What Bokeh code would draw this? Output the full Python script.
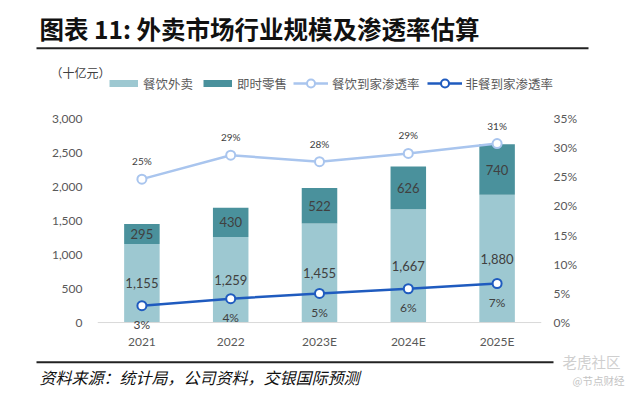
from bokeh.plotting import figure
from bokeh.layouts import column
from bokeh.models import (ColumnDataSource, Range1d, FactorRange, LinearAxis, Label, LabelSet,
                          BoxAnnotation, Legend, LegendItem, NumeralTickFormatter, FixedTicker,
                          PrintfTickFormatter, Span)
from bokeh.core.properties import value
from bokeh.embed import file_html
from bokeh.resources import INLINE

# ---- data ----
years = ["2021", "2022", "2023E", "2024E", "2025E"]
food = [1155, 1259, 1455, 1667, 1880]          # 餐饮外卖 (十亿元)
retail = [295, 430, 522, 626, 740]             # 即时零售 (十亿元)
food_pen = [24.6, 28.7, 27.6, 29.0, 30.7]      # 餐饮到家渗透率 (%)
nonfood_pen = [2.9, 4.1, 5.0, 5.8, 6.7]        # 非餐到家渗透率 (%)
left_ticks = [0, 500, 1000, 1500, 2000, 2500, 3000]
right_ticks = [0, 5, 10, 15, 20, 25, 30, 35]

C_FOOD = "#9DC8D1"
C_RETAIL = "#4A919C"
C_LIGHT = "#A9C5EE"
C_DARK = "#1F5BBF"
TXT = "#404040"
AX = "#595959"
NUM_FONT = "Lato"
CJK = "Noto Sans CJK SC"

W = 636
H_HEAD, H_MAIN, H_FOOT = 97, 254, 42

src = ColumnDataSource(dict(
    years=years, food=food, retail=retail,
    food_mid=[f / 2 for f in food],
    retail_mid=[f + r / 2 for f, r in zip(food, retail)],
    food_lbl=[f"{v:,}" for v in food],
    retail_lbl=[f"{v:,}" for v in retail],
    food_pen=food_pen, nonfood_pen=nonfood_pen,
    food_pen_lbl=[f"{round(v):d}%" for v in food_pen],
    nonfood_pen_lbl=[f"{round(v):d}%" for v in nonfood_pen],
))


def blank(h):
    f = figure(width=W, height=h, x_range=Range1d(0, W), y_range=Range1d(0, h),
               x_axis_type=None, y_axis_type=None, output_backend="svg",
               toolbar_location=None, min_border=0)
    f.outline_line_color = None
    f.frame_align = False
    return f


# ---------------- header: title, unit, legend ----------------
head = blank(H_HEAD)
hy = lambda y: H_HEAD - y   # page y -> header data y
head.add_layout(Label(x=39, y=hy(27.5), text="图表 11: 外卖市场行业规模及渗透率估算",
                      text_font=CJK, text_font_size="24.5px", text_font_style="bold",
                      text_color="#111111", text_baseline="middle"))
head.add_layout(BoxAnnotation(left=36, right=588, top=hy(46.7), bottom=hy(48.7),
                              fill_color="#222222", fill_alpha=1, line_alpha=0))
head.add_layout(Label(x=50, y=hy(72), text="（十亿元）", text_font=CJK,
                      text_font_size="12px", text_color=TXT, text_baseline="middle"))

# legend proxies: renderers parked outside the visible header range
off = dict(x=[-50, -40], y=[-50, -50])
g_food = head.line(line_width=7, line_color=C_FOOD, line_cap="butt", **off)
g_retail = head.line(line_width=7, line_color=C_RETAIL, line_cap="butt", **off)
g_l1 = head.line(line_width=2.5, line_color=C_LIGHT, **off)
g_s1 = head.scatter(marker="circle", size=8, fill_color="white",
                    line_color=C_LIGHT, line_width=2, **off)
g_l2 = head.line(line_width=2.5, line_color=C_DARK, **off)
g_s2 = head.scatter(marker="circle", size=8, fill_color="white",
                    line_color=C_DARK, line_width=2, **off)

leg_common = dict(orientation="horizontal", padding=0, margin=0, border_line_alpha=0,
                  background_fill_alpha=0, label_text_font=CJK, label_text_font_size="12.5px",
                  label_text_color=AX, glyph_height=20, label_height=20)
legA = Legend(items=[LegendItem(label="餐饮外卖", renderers=[g_food]),
                     LegendItem(label="即时零售", renderers=[g_retail])],
              location=(109, 4), glyph_width=29, label_standoff=5, spacing=10, **leg_common)
legB = Legend(items=[LegendItem(label="餐饮到家渗透率", renderers=[g_l1, g_s1]),
                     LegendItem(label="非餐到家渗透率", renderers=[g_l2, g_s2])],
              location=(293, 4), glyph_width=35, label_standoff=4, spacing=7, **leg_common)
head.add_layout(legA, "center")
head.add_layout(legB, "center")

# ---------------- main chart ----------------
# frame: x 97..541, y from 118 (3000 / 35%) down to 334 (11 px below zero at 323)
px_per_unit = 205 / 3000
below = 11
p = figure(width=W, height=H_MAIN, x_range=FactorRange(*years, range_padding=0),
           y_range=Range1d(-below / px_per_unit, 3000), output_backend="svg",
           toolbar_location=None, min_border_left=97, min_border_right=95,
           min_border_top=21, min_border_bottom=17)
p.frame_align = False
p.outline_line_color = None
p.xgrid.grid_line_color = None
p.ygrid.grid_line_color = None
p.extra_y_ranges = {"pct": Range1d(-below * 35 / 205, 35)}

bars = p.vbar_stack(["food", "retail"], x="years", width=0.4, color=[C_FOOD, C_RETAIL],
                    line_color=None, source=src)
p.add_layout(Span(location=0, dimension="width", line_color="#D9D9D9", line_width=1))

p.line("years", "food_pen", y_range_name="pct", color=C_LIGHT, line_width=2.5, source=src)
p.scatter("years", "food_pen", y_range_name="pct", marker="circle", size=9,
          fill_color="white", line_color=C_LIGHT, line_width=2, source=src)
p.line("years", "nonfood_pen", y_range_name="pct", color=C_DARK, line_width=2.5, source=src)
p.scatter("years", "nonfood_pen", y_range_name="pct", marker="circle", size=9,
          fill_color="white", line_color=C_DARK, line_width=2, source=src)

xa = p.xaxis[0]
xa.axis_line_color = None
xa.major_tick_line_color = None
xa.minor_tick_line_color = None
xa.major_tick_out = 0
xa.major_tick_in = 0
xa.major_label_text_font = NUM_FONT
xa.major_label_text_font_size = "12px"
xa.major_label_text_color = AX
xa.major_label_standoff = 0

ya = p.yaxis[0]
ya.ticker = FixedTicker(ticks=left_ticks)
ya.formatter = NumeralTickFormatter(format="0,0")
ya.axis_line_color = None
ya.major_tick_line_color = None
ya.minor_tick_line_color = None
ya.major_tick_out = 0
ya.major_tick_in = 0
ya.major_label_text_font = NUM_FONT
ya.major_label_text_font_size = "12px"
ya.major_label_text_color = AX
ya.major_label_standoff = 15

ra = LinearAxis(y_range_name="pct", ticker=FixedTicker(ticks=right_ticks),
                formatter=PrintfTickFormatter(format="%d%%"))
ra.axis_line_color = None
ra.major_tick_line_color = None
ra.minor_tick_line_color = None
ra.major_tick_out = 0
ra.major_tick_in = 0
ra.major_label_text_font = NUM_FONT
ra.major_label_text_font_size = "12px"
ra.major_label_text_color = AX
ra.major_label_standoff = 12
p.add_layout(ra, "right")

common = dict(text_align="center", text_baseline="middle", text_color=TXT,
              text_font=value(NUM_FONT), source=src)
p.add_layout(LabelSet(x="years", y="food_mid", text="food_lbl", text_font_size="13px", **common))
p.add_layout(LabelSet(x="years", y="retail_mid", text="retail_lbl", text_font_size="13px", **common))
p.add_layout(LabelSet(x="years", y="food_pen", y_range_name="pct", y_offset=18,
                      text="food_pen_lbl", text_font_size="10px", **common))
p.add_layout(LabelSet(x="years", y="nonfood_pen", y_range_name="pct", y_offset=-19,
                      text="nonfood_pen_lbl", text_font_size="12px", **common))

# ---------------- footer: source and watermark ----------------
foot = blank(H_FOOT)
fy = lambda y: (H_HEAD + H_MAIN + H_FOOT) - y   # page y -> footer data y
foot.add_layout(BoxAnnotation(left=36, right=553, top=fy(360.7), bottom=fy(362.7),
                              fill_color="#222222", fill_alpha=1, line_alpha=0))
foot.add_layout(Label(x=39, y=fy(376.5), text="资料来源：统计局，公司资料，交银国际预测",
                      text_font=CJK, text_font_size="16px", text_font_style="italic",
                      text_color="#111111", text_baseline="middle"))
foot.add_layout(Label(x=562, y=fy(360.5), text="老虎社区", text_font=CJK,
                      text_font_size="14.5px", text_color="#CFCFCF", text_baseline="middle"))
foot.add_layout(Label(x=572, y=fy(379.5), text="@节点财经", text_font=CJK,
                      text_font_size="10.5px", text_color="#C4C4C4", text_baseline="middle"))

layout = column(head, p, foot, spacing=0)
open("out.html", "w").write(file_html(layout, INLINE))
